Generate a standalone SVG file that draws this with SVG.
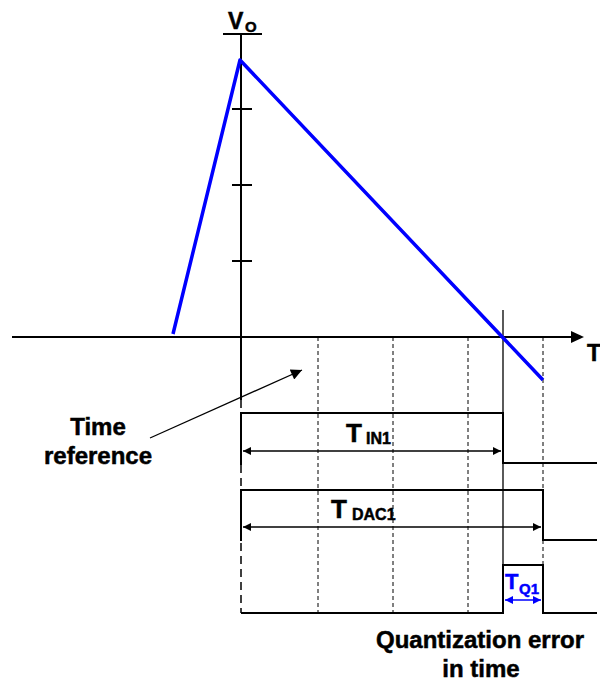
<svg xmlns="http://www.w3.org/2000/svg" width="600" height="685" viewBox="0 0 600 685">
<style>
.ax{stroke:#000;stroke-width:2;fill:none}
.sig{stroke:#000;stroke-width:2;fill:none;stroke-linejoin:miter}
.dash{stroke:#000;stroke-width:1;stroke-dasharray:4,3;fill:none}
.thin{stroke:#000;stroke-width:1.3;fill:none}
.blue{stroke:#0000ff;stroke-width:3.5;fill:none;stroke-linejoin:round}
text{font-family:"Liberation Sans",Arial,sans-serif;font-weight:bold;stroke-width:0.5}
.k{fill:#000;stroke:#000}
.b{fill:#0000ff;stroke:#0000ff}
.lbl{font-size:24px}
</style>
<defs>
<marker id="ah" viewBox="0 0 10 10" refX="10" refY="5" markerWidth="11" markerHeight="8" markerUnits="userSpaceOnUse" orient="auto-start-reverse"><path d="M0,0 L10,5 L0,10 z" fill="#000"/></marker>
<marker id="ahb" viewBox="0 0 10 10" refX="10" refY="5" markerWidth="9" markerHeight="8" markerUnits="userSpaceOnUse" orient="auto-start-reverse"><path d="M0,0 L10,5 L0,10 z" fill="#0000ff"/></marker>
<marker id="ahl" viewBox="0 0 10 10" refX="10" refY="5" markerWidth="13" markerHeight="11" markerUnits="userSpaceOnUse" orient="auto"><path d="M0,0 L10,5 L0,10 z" fill="#000"/></marker>
</defs>
<g id="axes">
<line class="ax" x1="241" y1="34" x2="241" y2="400"/>
<line class="ax" x1="223" y1="34" x2="262" y2="34"/>
<line class="ax" x1="232" y1="109" x2="252" y2="109"/>
<line class="ax" x1="232" y1="185" x2="252" y2="185"/>
<line class="ax" x1="232" y1="261" x2="252" y2="261"/>
<line class="ax" x1="12" y1="337" x2="572" y2="337"/>
<path d="M571,331 L584,337 L571,343 z" fill="#000"/>
<text class="k" x="228" y="29" style="font-size:23px">V</text>
<text class="k" x="245" y="32" style="font-size:15px">O</text>
<text class="k" x="587" y="361" style="font-size:23px">T</text>
</g>
<g id="grid">
<line x1="241" y1="400" x2="241" y2="613" stroke="#000" stroke-width="1.5" stroke-dasharray="8,5"/>
<line class="dash" x1="318" y1="337" x2="318" y2="613"/>
<line class="dash" x1="393" y1="337" x2="393" y2="613"/>
<line class="dash" x1="468" y1="337" x2="468" y2="613"/>
<line class="dash" x1="543" y1="337" x2="543" y2="613"/>
<line class="thin" x1="503" y1="310" x2="503" y2="613" stroke-width="1.6"/>
</g>
<g id="ramp">
<polyline class="blue" points="173,334 240,60 543,380"/>
</g>
<g id="signal-tin">
<polyline class="sig" points="241,465 241,413 503,413 503,463 597,463"/>
<line class="thin" x1="243" y1="451" x2="501" y2="451" marker-start="url(#ah)" marker-end="url(#ah)"/>
<text class="k" x="346" y="442" style="font-size:26px">T</text>
<text class="k" x="366" y="444" style="font-size:16px">IN1</text>
</g>
<g id="signal-tdac">
<polyline class="sig" points="241,541 241,490 543,490 543,540 597,540"/>
<line class="thin" x1="243" y1="527" x2="541" y2="527" marker-start="url(#ah)" marker-end="url(#ah)"/>
<text class="k" x="331" y="518" style="font-size:26px">T</text>
<text class="k" x="352" y="520" style="font-size:16px">DAC1</text>
</g>
<g id="signal-tq">
<polyline class="sig" points="241,613 503,613 503,565 543,565 543,613 597,613"/>
<line x1="505" y1="600" x2="541" y2="600" stroke="#0000ff" stroke-width="1.5" marker-start="url(#ahb)" marker-end="url(#ahb)"/>
<text class="b" x="505" y="589" style="font-size:22px">T</text>
<text class="b" x="519" y="594" style="font-size:15px">Q1</text>
</g>
<g id="time-reference">
<text class="k lbl" x="98" y="435" text-anchor="middle">Time</text>
<text class="k lbl" x="98" y="464" text-anchor="middle">reference</text>
<line class="thin" x1="150" y1="438" x2="302" y2="370" marker-end="url(#ahl)"/>
</g>
<g id="quantization-label">
<text class="k lbl" x="480" y="648" text-anchor="middle">Quantization error</text>
<text class="k lbl" x="481" y="677" text-anchor="middle">in time</text>
</g>
</svg>
